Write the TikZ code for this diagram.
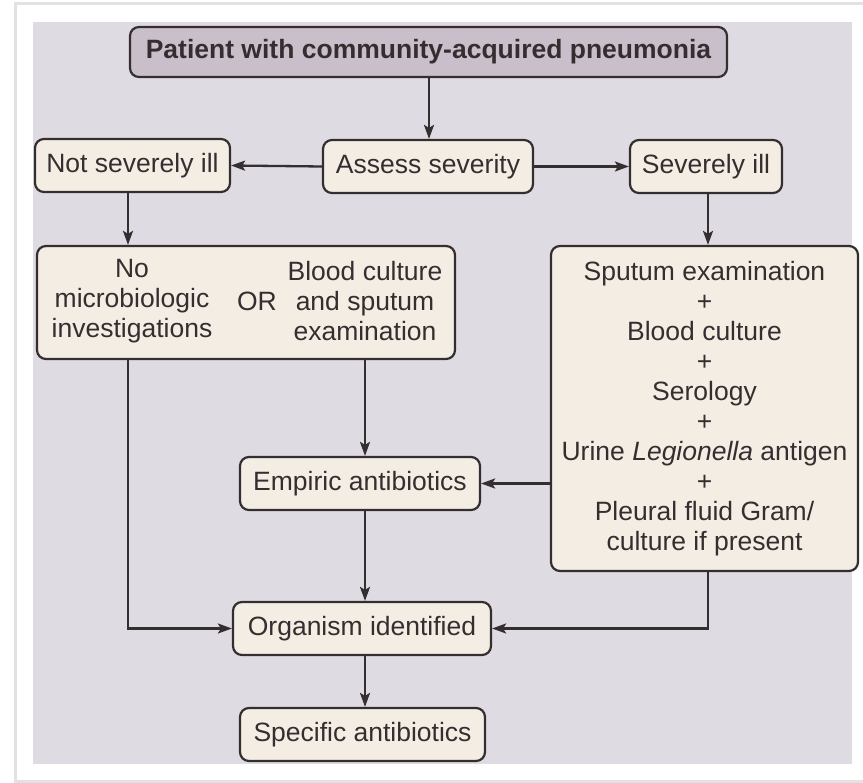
\documentclass[tikz,border=0pt]{standalone}
\usepackage{fontspec}
\setmainfont{Liberation Sans}
\usetikzlibrary{arrows.meta}
\definecolor{panel}{RGB}{222,219,226}
\definecolor{boxfill}{RGB}{244,237,228}
\definecolor{topfill}{RGB}{200,191,202}
\definecolor{ink}{RGB}{52,46,48}
\definecolor{frameline}{RGB}{226,226,226}
\begin{document}
\begin{tikzpicture}[x=1pt,y=-1pt,
  box/.style={draw=ink, line width=2.2pt, fill=boxfill, rounded corners=9pt,
    inner sep=0pt, text=ink, font=\fontsize{26.5}{30}\selectfont, align=center},
  lbl/.style={inner sep=0pt, text=ink, font=\fontsize{26.5}{30}\selectfont, align=center},
  conn/.style={draw=ink, line width=2.3pt, -{Stealth[length=14pt,width=10pt,inset=3pt]}}]
\useasboundingbox (0,0) rectangle (863,783);
\fill[white] (0,0) rectangle (863,783);
\draw[frameline, line width=3pt] (15,783) -- (15,4) -- (863,4);
\draw[frameline, line width=3pt] (15,781) -- (863,781);
\fill[panel] (33,22) rectangle (852,764);

\node[box, fill=topfill, minimum width=597pt, minimum height=50pt,
  font=\fontsize{26.5}{30}\selectfont\bfseries] (top) at (428.5,52)
  {Patient with community-acquired pneumonia};
\node[box, minimum width=210pt, minimum height=53pt] (assess) at (428,166.5) {Assess severity};
\node[box, minimum width=195pt, minimum height=53pt] (notsev) at (132.5,165.5) {Not severely ill};
\node[box, minimum width=152pt, minimum height=53pt] (sev) at (706,166.5) {Severely ill};

\node[box, minimum width=418pt, minimum height=113pt] (midleft) at (246,302.5) {};
\node[lbl] (noinv) at (132,301) {No\\microbiologic\\investigations};
\node[lbl] (or) at (257,301) {OR};
\node[lbl] (bcs) at (365,301) {Blood culture\\and sputum\\examination};

\node[box, minimum width=307pt, minimum height=325pt] (right) at (704.5,408.5)
  {Sputum examination\\+\\Blood culture\\+\\Serology\\+\\Urine \textit{Legionella} antigen\\+\\Pleural fluid Gram/\\culture if present};

\node[box, minimum width=240pt, minimum height=53pt] (empiric) at (360,483.5) {Empiric antibiotics};
\node[box, minimum width=258pt, minimum height=53pt] (organism) at (362,628.5) {Organism identified};
\node[box, minimum width=245pt, minimum height=53pt] (specific) at (362.5,734.5) {Specific antibiotics};

\coordinate (lx) at (128,0);
\coordinate (cx) at (365,0);
\coordinate (rx) at (708,0);
\coordinate (tx) at (429,0);

\draw[conn] (top.south -| tx) -- (assess.north -| tx);
\draw[conn] (assess.west) -- (notsev.east);
\draw[conn] (assess.east) -- (sev.west);
\draw[conn] (notsev.south -| lx) -- (midleft.north -| lx);
\draw[conn] (sev.south -| rx) -- (right.north -| rx);
\draw[conn] (midleft.south -| lx) -- (organism.west -| lx) -- (organism.west);
\draw[conn] (midleft.south -| cx) -- (empiric.north -| cx);
\draw[conn] (right.west |- empiric.east) -- (empiric.east);
\draw[conn] (empiric.south -| cx) -- (organism.north -| cx);
\draw[conn] (right.south -| rx) -- (organism.east -| rx) -- (organism.east);
\draw[conn] (organism.south -| cx) -- (specific.north -| cx);
\end{tikzpicture}
\end{document}
